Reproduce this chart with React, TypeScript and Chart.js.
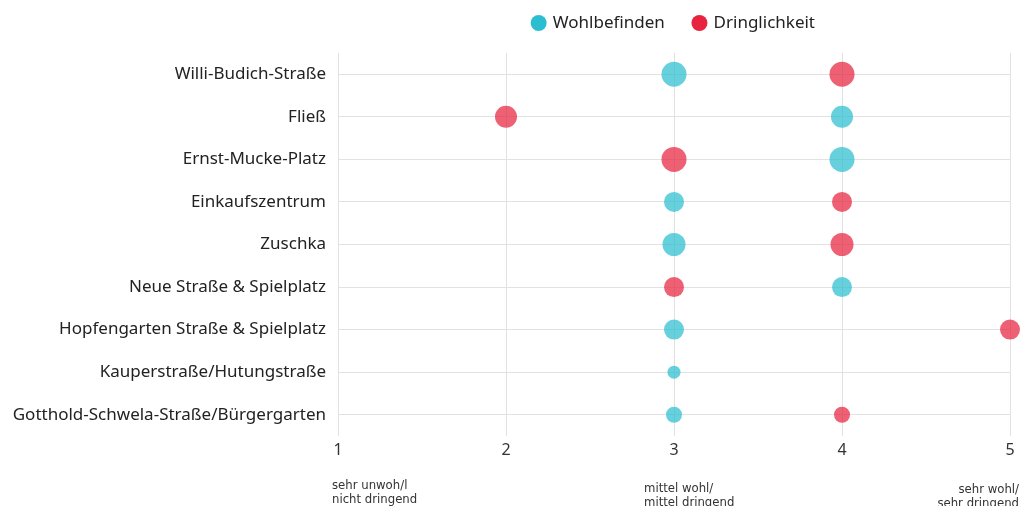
import React, { useEffect, useRef } from "react";
import { Chart, registerables } from "chart.js";

Chart.register(...registerables);

const categories = [
  "Willi-Budich-Straße",
  "Fließ",
  "Ernst-Mucke-Platz",
  "Einkaufszentrum",
  "Zuschka",
  "Neue Straße & Spielplatz",
  "Hopfengarten Straße & Spielplatz",
  "Kauperstraße/Hutungstraße",
  "Gotthold-Schwela-Straße/Bürgergarten",
];

const wohlValues = [3, 4, 4, 3, 3, 4, 3, 3, 3];
const wohlSizes = [12.5, 11, 12.5, 10, 11.5, 10, 10, 6.5, 8];

const dringValues: (number | null)[] = [4, 2, 3, 4, 4, 3, 5, null, 4];
const dringSizes = [12.5, 11, 12.5, 10, 11.5, 10, 10, 0, 8];

const xTicks = [1, 2, 3, 4, 5];

const noteValues = [1, 3, 5];
const noteLines = [
  ["sehr unwoh/l", "nicht dringend"],
  ["mittel wohl/", "mittel dringend"],
  ["sehr wohl/", "sehr dringend"],
];

const CYAN = "rgb(43,190,208)";
const CYAN_A = "rgba(43,190,208,0.72)";
const RED = "rgb(232,35,62)";
const RED_A = "rgba(232,35,62,0.72)";
const FONT = "'Noto Sans', sans-serif";

function toPoints(vals: (number | null)[], sizes: number[]) {
  const out: { x: number; y: string; r: number }[] = [];
  vals.forEach((v, i) => {
    if (v !== null) out.push({ x: v, y: categories[i], r: sizes[i] });
  });
  return out;
}

const noteStyle = [
  { align: "left" as CanvasTextAlign, dx: -6, y: 486 },
  { align: "left" as CanvasTextAlign, dx: -30, y: 489 },
  { align: "right" as CanvasTextAlign, dx: 9, y: 490 },
];

export default function App() {
  const ref = useRef<HTMLCanvasElement | null>(null);

  useEffect(() => {
    document.body.style.margin = "0";
    document.body.style.overflow = "hidden";
    const canvas = ref.current;
    if (!canvas) return;

    const legendSpacer = {
      id: "legendSpacer",
      beforeInit(chart: any) {
        if (!chart.legend) return;
        const orig = chart.legend.fit;
        chart.legend.fit = function () {
          orig.bind(chart.legend)();
          this.height += 11.5;
        };
      },
    };

    const notes = {
      id: "notes",
      afterDraw(chart: any) {
        const ctx = chart.ctx;
        const xs = chart.scales.x;
        ctx.save();
        ctx.font = "13px 'Liberation Sans Narrow', 'DejaVu Sans Condensed', sans-serif";
        ctx.fillStyle = "#333";
        ctx.textBaseline = "middle";
        noteValues.forEach((v, i) => {
          const st = noteStyle[i];
          ctx.textAlign = st.align;
          const x = xs.getPixelForValue(v) + st.dx;
          noteLines[i].forEach((line, j) => {
            ctx.fillText(line, x, st.y + j * 14);
          });
        });
        ctx.restore();
      },
    };

    const chart = new Chart(canvas, {
      type: "bubble",
      data: {
        labels: categories,
        datasets: [
          {
            label: "Wohlbefinden",
            data: toPoints(wohlValues, wohlSizes) as any,
            backgroundColor: CYAN_A,
            borderWidth: 0,
            clip: false as any,
          },
          {
            label: "Dringlichkeit",
            data: toPoints(dringValues, dringSizes) as any,
            backgroundColor: RED_A,
            borderWidth: 0,
            clip: false as any,
          },
        ],
      },
      options: {
        animation: false,
        responsive: true,
        maintainAspectRatio: false,
        layout: { padding: { top: -14.5, right: 14, left: 0, bottom: 0 } },
        plugins: {
          legend: {
            position: "top",
            fullSize: false,
            labels: {
              usePointStyle: true,
              pointStyle: "circle",
              boxWidth: 11.3,
              boxHeight: 11.3,
              padding: 29,
              color: "#222",
              font: { family: FONT, size: 17 },
              generateLabels: (c: any) =>
                c.data.datasets.map((d: any, i: number) => ({
                  text: d.label,
                  fillStyle: i === 0 ? CYAN : RED,
                  strokeStyle: i === 0 ? CYAN : RED,
                  lineWidth: 0,
                  pointStyle: "circle",
                  hidden: false,
                  datasetIndex: i,
                  fontColor: "#222",
                })),
            },
          },
          tooltip: { enabled: false },
        },
        scales: {
          x: {
            type: "linear",
            min: xTicks[0],
            max: xTicks[xTicks.length - 1],
            afterBuildTicks: (s: any) => {
              s.ticks = xTicks.map((v) => ({ value: v }));
            },
            afterFit: (s: any) => {
              s.height = 70;
            },
            grid: { color: "#e2e2e2", drawTicks: false, tickLength: 0 },
            border: { display: false },
            ticks: {
              padding: 5,
              color: "#333",
              font: { family: FONT, size: 16 },
            },
          },
          y: {
            type: "category",
            labels: categories,
            offset: true,
            afterFit: (s: any) => {
              s.width = 338;
            },
            grid: { color: "#e2e2e2", offset: false, drawTicks: false, tickLength: 0 },
            border: { display: false },
            ticks: {
              padding: 12,
              color: "#222",
              font: { family: FONT, size: 17 },
            },
          },
        },
      },
      plugins: [legendSpacer, notes],
    });

    return () => chart.destroy();
  }, []);

  return (
    <div style={{ position: "relative", width: 1024, height: 506 }}>
      <canvas ref={ref} />
    </div>
  );
}
